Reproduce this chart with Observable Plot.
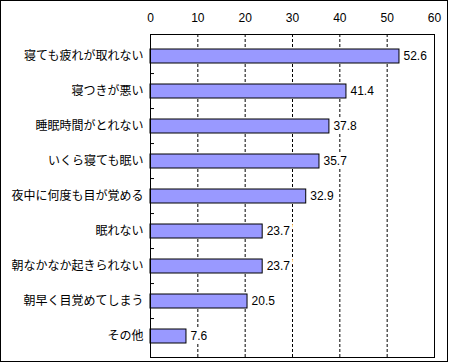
<!DOCTYPE html>
<html>
<head>
<meta charset="utf-8">
<script src="https://cdn.jsdelivr.net/npm/d3@7"></script>
<script src="https://cdn.jsdelivr.net/npm/@observablehq/plot@0.6"></script>
<style>
  html, body { margin: 0; padding: 0; background: #fff; }
  #chart svg { display: block; }
</style>
</head>
<body>
<div id="chart"></div>
<script>
const categories = [
  "寝ても疲れが取れない",
  "寝つきが悪い",
  "睡眠時間がとれない",
  "いくら寝ても眠い",
  "夜中に何度も目が覚める",
  "眠れない",
  "朝なかなか起きられない",
  "朝早く目覚めてしまう",
  "その他"
];
const values = [52.6, 41.4, 37.8, 35.7, 32.9, 23.7, 23.7, 20.5, 7.6];
const xTicks = [0, 10, 20, 30, 40, 50, 60];
const gridTicks = [10, 20, 30, 40, 50];

const data = categories.map((c, i) => ({category: c, value: values[i]}));

const W = 450, H = 363;
const mTop = 34, mBottom = 6, mLeft = 150, mRight = 16;
const step = (H - mTop - mBottom) / categories.length;
const numFont = "'Liberation Sans', Arial, sans-serif";

const chart = Plot.plot({
  width: W,
  height: H,
  marginTop: mTop,
  marginBottom: mBottom,
  marginLeft: mLeft,
  marginRight: mRight,
  style: {fontFamily: "'Noto Sans CJK JP', sans-serif", fontSize: "12px", color: "#000", background: "#fff"},
  x: {domain: [0, 60], range: [mLeft, W - mRight]},
  y: {domain: categories, paddingInner: 0.61, paddingOuter: 0.305},
  marks: [
    Plot.ruleX(gridTicks, {stroke: "#000", strokeDasharray: "3,2", strokeWidth: 1}),
    Plot.axisX({anchor: "top", ticks: xTicks, tickSize: 0, tickPadding: 13, fontSize: 12, fontFamily: numFont, label: null}),
    Plot.axisY({anchor: "left", tickSize: 0, tickPadding: 7, fontSize: 12, label: null}),
    Plot.axisY({anchor: "left", ticks: categories.slice(1), tickSize: 4, dx: 4, dy: -step / 2, tickFormat: () => "", label: null, stroke: "#000"}),
    Plot.barX(data, {y: "category", x: "value", fill: "#9999FF", stroke: "#000", strokeWidth: 1}),
    Plot.text(data, {y: "category", x: "value", text: d => d.value.toFixed(1), textAnchor: "start", dx: 4, fill: "#000", stroke: "#fff", strokeWidth: 7, fontSize: 12, fontFamily: numFont}),
    Plot.frame({stroke: "#000", strokeWidth: 1})
  ]
});

d3.select(chart).append("rect")
  .attr("x", 0.5).attr("y", 0.5)
  .attr("width", 447).attr("height", 361)
  .attr("fill", "none").attr("stroke", "#000");

document.getElementById("chart").appendChild(chart);
</script>
</body>
</html>
